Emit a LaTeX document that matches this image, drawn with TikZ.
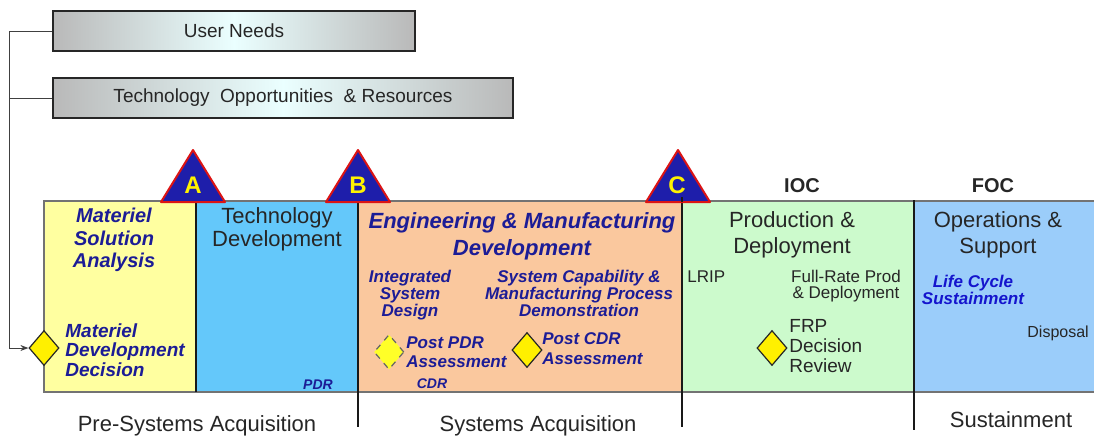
\documentclass[tikz,border=0pt]{standalone}
\usepackage{fontspec}
\setmainfont{Liberation Sans}
\usetikzlibrary{shapes.geometric,arrows.meta}
\definecolor{dblue}{RGB}{28,28,150}
\definecolor{lblue}{RGB}{20,20,205}
\definecolor{cyel}{RGB}{255,255,160}
\definecolor{ctd}{RGB}{100,200,250}
\definecolor{cemd}{RGB}{250,200,158}
\definecolor{cpd}{RGB}{204,250,204}
\definecolor{cos}{RGB}{155,205,250}
\definecolor{trifill}{RGB}{30,30,170}
\definecolor{trired}{RGB}{220,20,20}
\definecolor{dyel}{RGB}{255,240,0}
\definecolor{lyel}{RGB}{255,255,40}
\begin{document}
\begin{tikzpicture}[x=0.5pt,y=-0.5pt,
  lbl/.style n args={2}{inner sep=0, text=black!85, font=\fontsize{#1}{#2}\selectfont},
  bil/.style n args={2}{inner sep=0, text=dblue, font=\fontsize{#1}{#2}\selectfont\bfseries\itshape},
  bld/.style n args={2}{inner sep=0, text=black!85, font=\fontsize{#1}{#2}\selectfont\bfseries},
  topbox/.style={draw=black!85, line width=1pt, left color=gray!55, right color=gray!55, middle color=cyan!8,
     inner sep=0, text=black!85, font=\fontsize{9.5}{11}\selectfont},
  dia/.style={diamond, draw=black!85, line width=0.6pt, fill=dyel, inner sep=0, minimum width=15pt, minimum height=17.5pt},
  tri/.style={fill=trifill, draw=trired, line width=1pt, line join=round},
  letter/.style={inner sep=0, text=yellow, font=\fontsize{12}{12}\selectfont\bfseries},
  divider/.style={draw=black!90, line width=1pt},
  conn/.style={draw=black!75, line width=0.5pt}
]
\useasboundingbox (0,0) rectangle (1094,435);

% phase boxes
\fill[cyel] (44,201) rectangle (196,392);
\fill[ctd]  (196,201) rectangle (358,392);
\fill[cemd] (358,201) rectangle (682,392);
\fill[cpd]  (682,201) rectangle (914,392);
\fill[cos]  (914,201) rectangle (1094,392);
\draw[black!55, line width=0.6pt] (1094,201) -- (44,201) -- (44,392) -- (1094,392);

% dividers
\draw[divider] (196,200) -- (196,392);
\draw[divider] (358,200) -- (358,427);
\draw[divider] (682,197) -- (682,427);
\draw[divider] (914,200) -- (914,430);

% milestone triangles
\draw[tri] (161,202) -- (193,150) -- (225,202) -- cycle;
\draw[tri] (326,202) -- (358,150) -- (390,202) -- cycle;
\draw[tri] (646,202) -- (678,150) -- (710,202) -- cycle;
\draw[divider] (682,197) -- (682,202);
\node[letter, anchor=base] (la) at (193,193) {A};
\node[letter, anchor=base] (lb) at (358,193) {B};
\node[letter, anchor=base] (lc) at (677,193) {C};

\node[bld={10}{12}, anchor=base] (ioc) at (802,192) {IOC};
\node[bld={10}{12}, anchor=base] (foc) at (993,192) {FOC};

% top boxes
\node[topbox, minimum width=181pt, minimum height=20pt, anchor=north west] (un) at (52,10) {User Needs};
\node[topbox, minimum width=230pt, minimum height=20pt, anchor=north west] (tor) at (52,77) {Technology\ \ Opportunities\ \ \& Resources};

% phase texts
\node[bil={10}{11.25}, align=center, anchor=north] (msa) at (114,208) {Materiel\\Solution\\Analysis};
\node[lbl={11}{11.5}, align=center, anchor=north] (td) at (277,207) {Technology\\Development};
\node[bil={9.5}{9.75}, align=left, anchor=north west] (mddt) at (65,323) {Materiel\\Development\\Decision};
\node[bil={7}{8}, anchor=base] (pdr) at (318,389) {PDR};
\node[bil={11}{13.5}, align=center, anchor=north] (emd) at (522,212) {Engineering \& Manufacturing\\Development};
\node[bil={8.5}{8.5}, align=center, anchor=north] (isd) at (410,270) {Integrated\\System\\Design};
\node[bil={8.5}{8.5}, align=center, anchor=north] (scm) at (579,270) {System Capability \&\\Manufacturing Process\\Demonstration};
\node[bil={8.5}{9.5}, align=left, anchor=north west] (ppdr) at (406,336) {Post PDR\\Assessment};
\node[bil={7}{8}, anchor=base] (cdr) at (432,388) {CDR};
\node[bil={8.5}{10}, align=left, anchor=north west] (pcdr) at (542,332) {Post CDR\\Assessment};
\node[lbl={11}{13}, align=center, anchor=north] (pd) at (792,211) {Production \&\\Deployment};
\node[lbl={11}{13}, align=center, anchor=north] (os) at (998,211) {Operations \&\\Support};
\node[lbl={8.5}{9}, anchor=base west] (lrip) at (687,282) {LRIP};
\node[lbl={8.5}{7.75}, align=center, anchor=north] (frp) at (846,270) {Full-Rate Prod\\\& Deployment};
\node[lbl={9.5}{10}, align=left, anchor=north west] (frpd) at (789,319) {FRP\\Decision\\Review};
\node[bil={8.5}{8.5}, align=center, anchor=north, text=lblue] (lcs) at (973,275) {Life Cycle\\Sustainment};
\node[lbl={8}{9}, anchor=base west] (disp) at (1027,337) {Disposal};

% bottom labels
\node[lbl={11}{12}, anchor=base] (psa) at (197,431) {Pre-Systems Acquisition};
\node[lbl={11}{12}, anchor=base] (sa) at (538,431) {Systems Acquisition};
\node[lbl={11}{12}, anchor=base] (sus) at (1011,427) {Sustainment};

% decision diamonds
\node[dia] (mdd) at (44,348) {};
\node[dia, fill=lyel, dashed, draw=black!60] (ppdrd) at (389,352) {};
\node[dia] (pcdrd) at (527,350) {};
\node[dia] (frpdd) at (772,348) {};

% connectors
\coordinate (spine) at (9,0);
\draw[conn, -{Stealth[length=4pt,width=3pt]}] (un.west) -| (spine |- mdd.west) -- (mdd.west);
\draw[conn] (tor.west) -- (tor.west -| spine);
\end{tikzpicture}
\end{document}
